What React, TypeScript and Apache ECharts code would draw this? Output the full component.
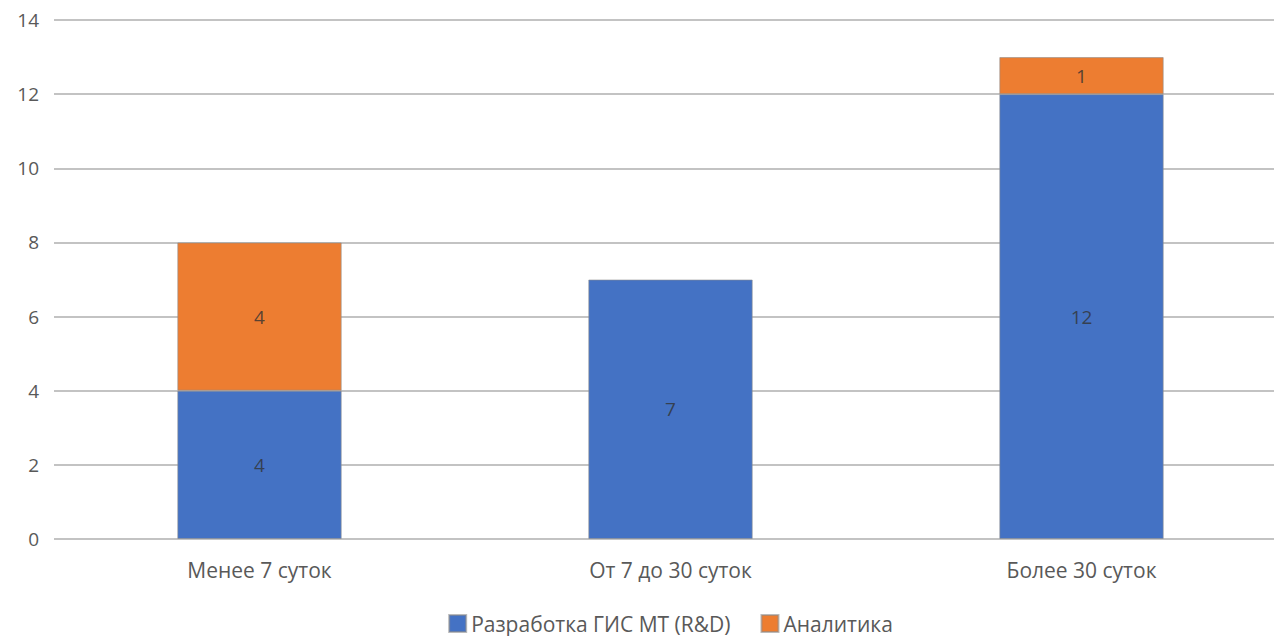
import React, { useEffect, useRef } from "react";
import * as echarts from "echarts";

const categories = ["Менее 7 суток", "От 7 до 30 суток", "Более 30 суток"];
const seriesNames = ["Разработка ГИС МТ (R&D)", "Аналитика"];
const rdValues: (number | null)[] = [4, 7, 12];
const analyticsValues: (number | null)[] = [4, null, 1];
const colors = ["#4472C4", "#ED7D31"];

export default function App() {
  const ref = useRef<HTMLDivElement>(null);
  useEffect(() => {
    if (!ref.current) return;
    const chart = echarts.init(ref.current, null, { renderer: "svg" });
    const font = "'Open Sans', 'Noto Sans', sans-serif";
    const label = {
      show: true,
      position: "inside",
      color: "rgba(50,50,50,0.8)",
      fontSize: 19,
      fontFamily: font,
    };
    chart.setOption({
      animation: false,
      color: colors,
      grid: { left: 54, right: 54, top: 20, bottom: 97 },
      legend: {
        top: 613,
        left: "center",
        padding: 0,
        itemWidth: 17,
        itemHeight: 17,
        itemGap: 30,
        icon: "rect",
        textStyle: { fontSize: 21, lineHeight: 20, color: "#595959", fontFamily: font },
        data: seriesNames,
      },
      xAxis: {
        type: "category",
        data: categories,
        axisLine: { show: false },
        axisTick: { show: false },
        axisLabel: { fontSize: 21, color: "#595959", margin: 20, fontFamily: font },
      },
      yAxis: {
        type: "value",
        min: 0,
        max: 14,
        interval: 2,
        axisLine: { show: false },
        axisTick: { show: false },
        axisLabel: { fontSize: 19, color: "#595959", margin: 15, fontFamily: font },
        splitLine: { lineStyle: { color: "#c3c3c3", width: 2 } },
      },
      series: [
        {
          name: seriesNames[0],
          type: "bar",
          stack: "total",
          barWidth: "40%",
          data: rdValues,
          itemStyle: { color: colors[0], borderColor: "rgba(140,140,140,0.6)", borderWidth: 1 },
          label,
        },
        {
          name: seriesNames[1],
          type: "bar",
          stack: "total",
          barWidth: "40%",
          data: analyticsValues,
          itemStyle: { color: colors[1], borderColor: "rgba(140,140,140,0.6)", borderWidth: 1 },
          label,
        },
      ],
    });
    return () => chart.dispose();
  }, []);
  return (
    <div
      style={{ position: "fixed", left: 0, top: 0, width: 1274, height: 636, overflow: "hidden", background: "#fff" }}
    >
      <div ref={ref} style={{ width: 1341, height: 636 }} />
    </div>
  );
}
